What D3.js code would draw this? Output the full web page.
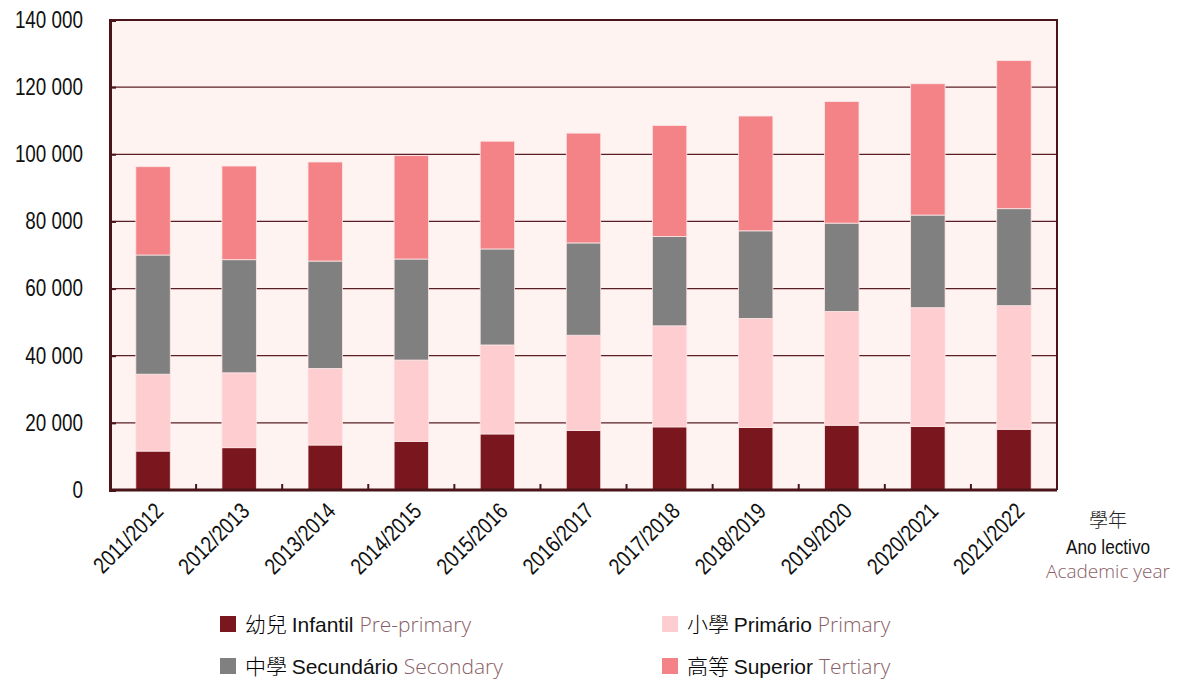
<!DOCTYPE html>
<html>
<head>
<meta charset="utf-8">
<style>
body { margin: 0; background: #fff; }
svg { font-family: "Liberation Sans", Arial, sans-serif; }
.tick text { font-size: 23px; fill: #111; }
.legend .zh { font-family: "Noto Sans CJK TC", sans-serif; font-weight: 300; }
.legend .pt { font-family: "Liberation Sans", sans-serif; fill: #111; }
.legend .en { font-family: "Open Sans", sans-serif; font-weight: 300; fill: #8a6066; }
</style>
</head>
<body>
<svg width="1184" height="681"></svg>
<script src="https://d3js.org/d3.v7.min.js"></script>
<script>

var years = ['2011/2012', '2012/2013', '2013/2014', '2014/2015', '2015/2016', '2016/2017',
             '2017/2018', '2018/2019', '2019/2020', '2020/2021', '2021/2022'];

var infantil   = [11600, 12600, 13400, 14500, 16700, 17700, 18800, 18600, 19300, 18900, 18100];
var primario   = [22900, 22300, 22800, 24200, 26500, 28400, 30100, 32500, 33900, 35400, 36800];
var secundario = [35500, 33700, 32000, 30100, 28600, 27500, 26600, 26100, 26300, 27600, 28900];
var superior   = [26300, 27900, 29500, 30800, 32100, 32700, 33100, 34200, 36200, 39100, 44100];

var yTicks = [0, 20000, 40000, 60000, 80000, 100000, 120000, 140000];

var seriesKeys = ['infantil', 'primario', 'secundario', 'superior'];
var seriesColors = ['#7a171e', '#fdcdd0', '#808080', '#f48387'];
var legendItems = [
  { zh: '幼兒', pt: 'Infantil', en: 'Pre-primary' },
  { zh: '小學', pt: 'Primário', en: 'Primary' },
  { zh: '中學', pt: 'Secundário', en: 'Secondary' },
  { zh: '高等', pt: 'Superior', en: 'Tertiary' }
];

var rows = years.map(function (y, i) {
  return { year: y, infantil: infantil[i], primario: primario[i], secundario: secundario[i], superior: superior[i] };
});

var margin = { left: 110, top: 20, right: 127, bottom: 191 };
var width = 1184, height = 681;
var innerW = width - margin.left - margin.right;
var innerH = height - margin.top - margin.bottom;
var narrow = 0.82;

var svg = d3.select('svg');
var g = svg.append('g').attr('transform', 'translate(' + margin.left + ',' + margin.top + ')');

var x = d3.scaleBand().domain(years).range([0, innerW]).paddingInner(0.6).paddingOuter(0.3);
var y = d3.scaleLinear().domain([0, 140000]).range([innerH, 0]);

g.append('rect')
  .attr('width', innerW).attr('height', innerH)
  .attr('fill', '#fff3f2');

// gridlines
g.selectAll('.grid')
  .data(yTicks.slice(1, -1))
  .enter().append('line')
  .attr('class', 'grid')
  .attr('x1', 0).attr('x2', innerW)
  .attr('y1', function (d) { return y(d); })
  .attr('y2', function (d) { return y(d); })
  .attr('stroke', '#5a1f25')
  .attr('stroke-width', 1.2);

var stack = d3.stack().keys(seriesKeys)(rows);

g.selectAll('.series')
  .data(stack)
  .enter().append('g')
  .attr('fill', function (d, i) { return seriesColors[i]; })
  .selectAll('rect')
  .data(function (d) { return d; })
  .enter().append('rect')
  .attr('x', function (d) { return x(d.data.year); })
  .attr('width', x.bandwidth())
  .attr('y', function (d) { return y(d[1]); })
  .attr('height', function (d) { return y(d[0]) - y(d[1]); })
  .attr('stroke', '#fde6e6')
  .attr('stroke-width', 0.8);

// frame top/right
g.append('path')
  .attr('d', 'M0,0H' + innerW + 'V' + innerH)
  .attr('fill', 'none')
  .attr('stroke', '#4a1418')
  .attr('stroke-width', 2);

// y axis
var yAxis = g.append('g')
  .call(d3.axisLeft(y).tickValues(yTicks).tickSize(-6).tickPadding(27)
    .tickFormat(function (d) { return d3.format(',')(d).replace(/,/g, ' '); }));
yAxis.select('.domain').attr('stroke', '#4a1418').attr('stroke-width', 3);
yAxis.selectAll('.tick line').attr('stroke', '#4a1418').attr('stroke-width', 2);
yAxis.selectAll('.tick text')
  .attr('x', -27 / narrow)
  .attr('transform', 'scale(' + narrow + ',1)');

// x axis, ticks on band boundaries
var xAxis = g.append('g').attr('transform', 'translate(0,' + innerH + ')');
xAxis.append('line')
  .attr('x1', 0).attr('x2', innerW)
  .attr('stroke', '#4a1418').attr('stroke-width', 3);
xAxis.selectAll('.btick')
  .data(years.slice(1))
  .enter().append('line')
  .attr('x1', function (d) { return x(d) - (x.step() - x.bandwidth()) / 2; })
  .attr('x2', function (d) { return x(d) - (x.step() - x.bandwidth()) / 2; })
  .attr('y1', 0).attr('y2', -6)
  .attr('stroke', '#4a1418').attr('stroke-width', 2);

xAxis.selectAll('.xlabel')
  .data(years)
  .enter().append('text')
  .attr('transform', function (d) {
    return 'translate(' + (x(d) + x.bandwidth() / 2 + 6) + ',17) rotate(-45) scale(' + narrow + ',1)';
  })
  .attr('text-anchor', 'end')
  .attr('dy', '0.35em')
  .style('font-size', '23px')
  .attr('fill', '#111')
  .text(function (d) { return d; });

// axis title
var at = svg.append('g').attr('transform', 'translate(1108,0)').attr('text-anchor', 'middle');
at.append('text').attr('y', 527).style('font-family', '"Noto Sans CJK TC", sans-serif').style('font-weight', 300)
  .style('font-size', '19px').attr('fill', '#222').text('學年');
at.append('text').attr('y', 554).attr('transform', 'scale(' + narrow + ',1)')
  .style('font-size', '21px').attr('fill', '#111').text('Ano lectivo');
at.append('text').attr('y', 578).style('font-family', '"Open Sans", sans-serif').style('font-weight', 300)
  .style('font-size', '19px').attr('fill', '#8a6066').text('Academic year');

// legend
var lg = svg.append('g').attr('class', 'legend');
var lpos = [[220, 624], [662, 624], [220, 666], [662, 666]];
legendItems.forEach(function (it, i) {
  var p = lpos[i];
  var item = lg.append('g').attr('transform', 'translate(' + p[0] + ',' + p[1] + ')');
  item.append('rect').attr('x', 0).attr('y', -8).attr('width', 16).attr('height', 16).attr('fill', seriesColors[i]);
  var t = item.append('text').attr('x', 25).attr('y', 8).style('font-size', '21px');
  t.append('tspan').attr('class', 'zh').text(it.zh + ' ');
  t.append('tspan').attr('class', 'pt').text(it.pt + ' ');
  t.append('tspan').attr('class', 'en').text(it.en);
});

</script>
</body>
</html>
